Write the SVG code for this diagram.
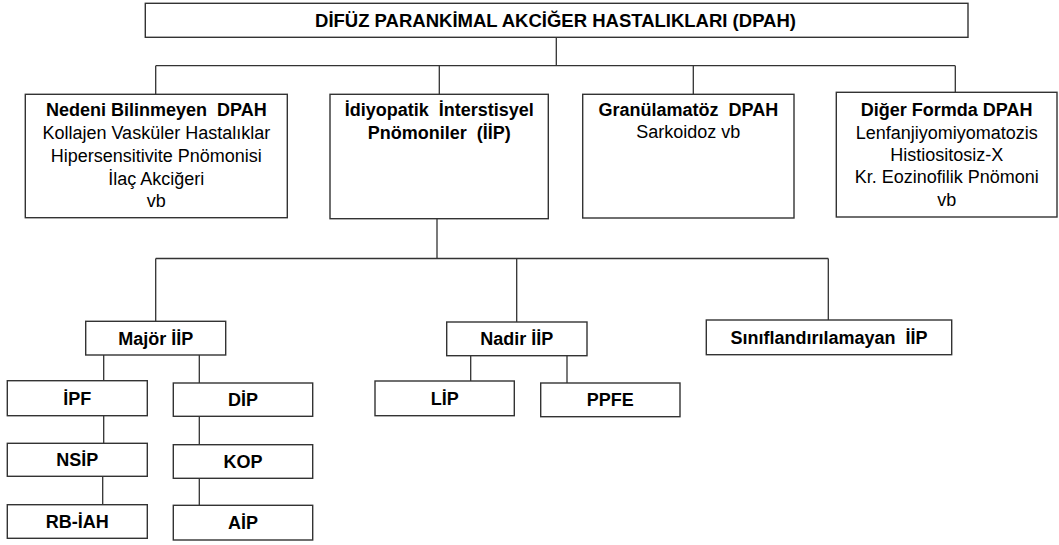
<svg xmlns="http://www.w3.org/2000/svg" width="1059" height="545" viewBox="0 0 1059 545">
<style>
  .box { fill: #ffffff; stroke: #333333; stroke-width: 1.4; }
  .conn { fill: none; stroke: #333333; stroke-width: 1.3; }
  text { font-family: "Liberation Sans", Arial, sans-serif; font-size: 18px; fill: #000000; text-anchor: middle; }
  .b { font-weight: bold; }
</style>
<rect width="1059" height="545" fill="#ffffff"/>
<g id="connectors">
  <path class="conn" d="M556.3 37.3 V65.7 M155.7 65.7 H955.3 M155.7 65.7 V94.3 M439.3 65.7 V94.3 M693.3 65.7 V94.3 M955.3 65.7 V92.3"/>
  <path class="conn" d="M437 219 V258.5 M155.7 258.5 H828.3 M155.7 258.5 V321.3 M516.7 258.5 V322 M828.3 258.5 V320"/>
  <path class="conn" d="M103.7 355 V380.7 M199.3 355 V383 M103.7 415.7 V443.3 M199.3 416.3 V444.7 M102.7 476.3 V504.7 M199.3 478.3 V505.3"/>
  <path class="conn" d="M470.7 355.7 V381 M567 355.7 V383"/>
</g>
<g id="root">
  <rect class="box" x="145.3" y="3.3" width="822.7" height="34"/>
  <text class="b" x="555.5" y="26.5" style="font-size:18.5px">DİFÜZ PARANKİMAL AKCİĞER HASTALIKLARI (DPAH)</text>
</g>
<g id="nedeni">
  <rect class="box" x="25.3" y="94.3" width="262" height="123.4"/>
  <text class="b" x="156.3" y="116" xml:space="preserve">Nedeni Bilinmeyen  DPAH</text>
  <text x="156.3" y="139">Kollajen Vasküler Hastalıklar</text>
  <text x="156.3" y="162">Hipersensitivite Pnömonisi</text>
  <text x="156.3" y="185">İlaç Akciğeri</text>
  <text x="156.3" y="207">vb</text>
</g>
<g id="iip">
  <rect class="box" x="330" y="94.3" width="218.3" height="124.4"/>
  <text class="b" x="439.2" y="115.5" xml:space="preserve">İdiyopatik  İnterstisyel</text>
  <text class="b" x="439.2" y="138.5" xml:space="preserve">Pnömoniler  (İİP)</text>
</g>
<g id="granulamatoz">
  <rect class="box" x="582.7" y="94.3" width="211.3" height="123.7"/>
  <text class="b" x="688.3" y="115.5" xml:space="preserve">Granülamatöz  DPAH</text>
  <text x="688.3" y="138">Sarkoidoz vb</text>
</g>
<g id="diger">
  <rect class="box" x="836.3" y="92.3" width="220.7" height="124.7"/>
  <text class="b" x="946.7" y="115.5">Diğer Formda DPAH</text>
  <text x="946.7" y="138.5">Lenfanjiyomiyomatozis</text>
  <text x="946.7" y="160.5">Histiositosiz-X</text>
  <text x="946.7" y="183">Kr. Eozinofilik Pnömoni</text>
  <text x="946.7" y="205.5">vb</text>
</g>
<g id="major">
  <rect class="box" x="85.7" y="321.3" width="140" height="33.7"/>
  <text class="b" x="155.7" y="344.6">Majör İİP</text>
</g>
<g id="nadir">
  <rect class="box" x="446.7" y="322" width="140.3" height="33.7"/>
  <text class="b" x="516.8" y="345.3">Nadir İİP</text>
</g>
<g id="siniflandirilamayan">
  <rect class="box" x="706.3" y="320" width="245.4" height="34.7"/>
  <text class="b" x="829" y="343.8" xml:space="preserve">Sınıflandırılamayan  İİP</text>
</g>
<g id="ipf">
  <rect class="box" x="7.3" y="380.7" width="140" height="35"/>
  <text class="b" x="77.3" y="404.6">İPF</text>
</g>
<g id="dip">
  <rect class="box" x="173.3" y="383" width="139.4" height="33.3"/>
  <text class="b" x="243" y="406.2">DİP</text>
</g>
<g id="nsip">
  <rect class="box" x="7.3" y="443.3" width="140" height="33"/>
  <text class="b" x="77.3" y="466.3">NSİP</text>
</g>
<g id="kop">
  <rect class="box" x="173.3" y="444.7" width="139.4" height="33.6"/>
  <text class="b" x="243" y="468">KOP</text>
</g>
<g id="rbiah">
  <rect class="box" x="7.3" y="504.7" width="140" height="33.6"/>
  <text class="b" x="77.3" y="528">RB-İAH</text>
</g>
<g id="aip">
  <rect class="box" x="173.3" y="505.3" width="139.4" height="34.7"/>
  <text class="b" x="243" y="529.2">AİP</text>
</g>
<g id="lip">
  <rect class="box" x="375" y="381" width="139.3" height="34.7"/>
  <text class="b" x="444.7" y="404.8">LİP</text>
</g>
<g id="ppfe">
  <rect class="box" x="540.7" y="383" width="139.3" height="33.7"/>
  <text class="b" x="610.3" y="406.3">PPFE</text>
</g>
</svg>
